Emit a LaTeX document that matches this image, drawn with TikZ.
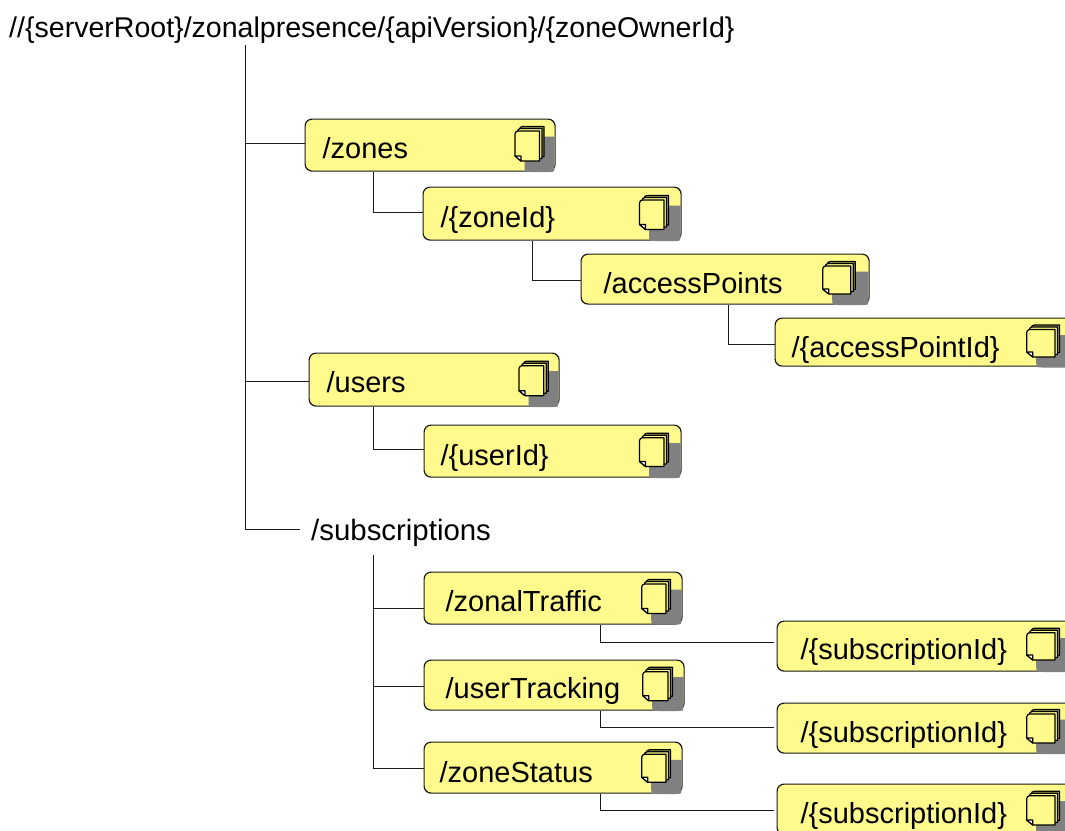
\documentclass[tikz,border=0pt]{standalone}
\usepackage{fontspec}
\setmainfont{Liberation Sans}
\definecolor{boxfill}{HTML}{FFFA8C}
\definecolor{olive}{HTML}{A8A458}
\definecolor{shadowgray}{HTML}{808080}
\definecolor{ink}{HTML}{1A1A1A}
\tikzset{
  rbox/.style={draw=ink,line width=1.2pt,fill=boxfill,rounded corners=7pt,inner sep=0pt,align=left,anchor=north west},
  plain/.style={inner sep=0pt,anchor=base west},
  wire/.style={draw=ink,line width=1.2pt},
  pagesheet/.style={draw=black,line width=1.2pt,line join=round},
}
\newcommand{\bx}[8]{% name x1 y1 x2 y2 baseline textx text
  \pgfmathsetmacro{\bw}{#4-#2}
  \pgfmathsetmacro{\bta}{#6-#3}
  \pgfmathsetmacro{\btd}{#5-#6}
  \pgfmathsetmacro{\bpad}{#7-#2}
  \node[rbox,text width=\bw pt,text height=\bta pt,text depth=\btd pt] (#1) at (#2,#3) {\hspace*{\bpad pt}#8};
}
\newcommand{\onepage}[5]{% x1 y1 x2 y2 fill
  \draw[pagesheet,fill=#5] (#1+3,#2) -- (#3,#2) -- (#3,#4) -- (#1+6,#4) -- (#1,#4-5) -- (#1,#2+3) to[out=90,in=180] (#1+3,#2) -- cycle;
}
\newcommand{\ic}[6]{% front x1 y1 x2 y2, shadow right, shadow bottom
  \fill[shadowgray] (#1+9.5,#2+5.5) -- (#5,#2+5.5) -- (#5,#6-6) .. controls (#5,#6) .. (#5-6,#6) -- (#1+15.5,#6) .. controls (#1+9.5,#6) .. (#1+9.5,#6-6) -- cycle;
  \onepage{#1+4.5}{#2-4.5}{#3+4.5}{#4-4.5}{olive}
  \onepage{#1+2.5}{#2-2.5}{#3+2.5}{#4-2.5}{boxfill}
  \onepage{#1}{#2}{#3}{#4}{boxfill}
  \draw[pagesheet,fill=white] (#1,#4-5) -- (#1+6,#4-5) -- (#1+6,#4) -- cycle;
}
\begin{document}
\begin{tikzpicture}[x=1pt,y=-1pt,font=\fontsize{29}{33}\selectfont]
\path[use as bounding box,fill=white] (0,0) rectangle (1065,830);
\clip (0,0) rectangle (1065,830);

\node[plain,font=\fontsize{28.55}{33}\selectfont] (root) at (9,37) {//\{serverRoot\}/zonalpresence/\{apiVersion\}/\{zoneOwnerId\}};
\node[plain,font=\fontsize{29.4}{33}\selectfont] (subs) at (311,540) {/subscriptions};

\coordinate (trunktop) at (245.5,45);
\coordinate (substop) at (373.5,555);
\coordinate (subsend) at (300,529.5);

\bx{zones}{304.5}{118.5}{554.5}{170.5}{158.3}{322}{/zones}
\ic{515}{131}{539.5}{161}{554.5}{172}
\bx{zoneId}{422.5}{186.5}{680.5}{239.5}{226.7}{440}{/\{zoneId\}}
\ic{639.5}{200}{664}{229.5}{680.5}{241}
\bx{accessPoints}{580.5}{253.5}{868.5}{303.5}{293}{603}{/accessPoints}
\ic{822.7}{266}{850.7}{294}{868.5}{305}
\bx{accessPointId}{774.5}{317.5}{1100}{365.5}{356.7}{791}{/\{accessPointId\}}
\ic{1026.7}{329.5}{1055}{357}{1100}{367.5}
\bx{users}{308.5}{352.5}{558.5}{405.5}{392}{326}{/users}
\ic{519}{365.7}{543.7}{395.7}{558.5}{407}
\bx{userId}{423.5}{424.5}{680.5}{476.5}{465}{440}{/\{userId\}}
\ic{639.5}{437.7}{664}{466.5}{680.5}{478}
\bx{zonalTraffic}{423.5}{571.5}{681.5}{623.5}{611}{445}{/zonalTraffic}
\ic{641.7}{584}{666}{613.5}{681.5}{624.5}
\bx{subA}{776.5}{620.5}{1100}{670.5}{659.3}{800}{/\{subscriptionId\}}
\ic{1026.7}{632.7}{1055}{660}{1100}{672}
\bx{userTracking}{423.5}{659.5}{683.5}{709.5}{698}{445}{/userTracking}
\ic{642.7}{671.7}{668}{700.7}{683.5}{711}
\bx{subB}{776.5}{702.5}{1100}{752.5}{741.7}{800}{/\{subscriptionId\}}
\ic{1026.7}{714}{1055}{743}{1100}{754}
\bx{zoneStatus}{423.5}{741.5}{681.5}{792.5}{781.7}{439}{/zoneStatus}
\ic{641.7}{754.3}{666}{782.3}{681.5}{794}
\bx{subC}{776.5}{783.5}{1100}{834}{823.3}{800}{/\{subscriptionId\}}
\ic{1026.7}{795.7}{1055}{825}{1100}{836}

\draw[wire] (trunktop) |- (subsend);
\draw[wire] (trunktop |- 0,143.5) -- (zones.west |- 0,143.5);
\draw[wire] (trunktop |- 0,381.5) -- (users.west |- 0,381.5);
\draw[wire] (substop) -- (substop |- 0,768.5);
\draw[wire] (substop |- 0,608.5) -- (zonalTraffic.west |- 0,608.5);
\draw[wire] (substop |- 0,686.5) -- (userTracking.west |- 0,686.5);
\draw[wire] (substop |- 0,768.5) -- (zoneStatus.west |- 0,768.5);

\draw[wire] (zones.south -| substop) |- (zoneId.west |- 0,212.5);
\draw[wire] (users.south -| substop) |- (userId.west |- 0,449.5);
\draw[wire] (zoneId.south -| 532.5,0) |- (accessPoints.west |- 0,280.5);
\draw[wire] (accessPoints.south -| 728.5,0) |- (accessPointId.west |- 0,344.5);
\draw[wire] (zonalTraffic.south -| 600.5,0) |- (774,642.5) coordinate (endA);
\draw[wire] (userTracking.south -| 600.5,0) |- (774,727.5) coordinate (endB);
\draw[wire] (zoneStatus.south -| 600.5,0) |- (774,810.5) coordinate (endC);
\end{tikzpicture}
\end{document}
